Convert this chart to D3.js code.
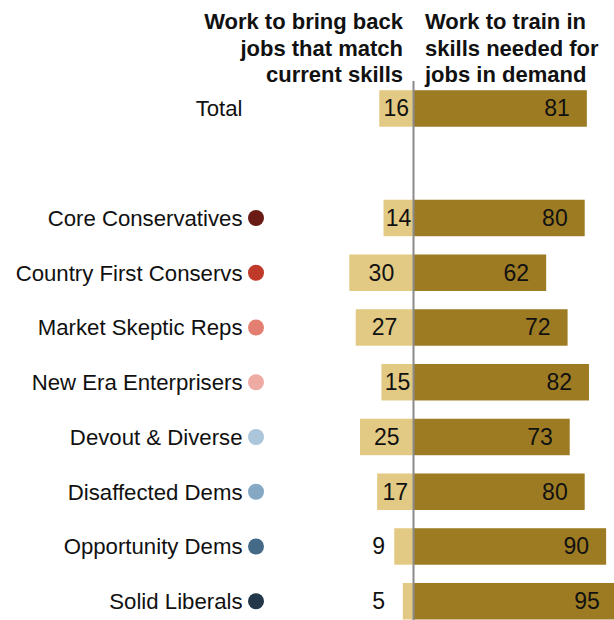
<!DOCTYPE html>
<html><head><meta charset="utf-8">
<script src="https://cdn.jsdelivr.net/npm/d3@7"></script>
<style>
body{margin:0;background:#fff;}
svg{display:block;font-family:"Liberation Sans",Arial,sans-serif;}
</style></head>
<body>
<svg id="chart" width="614" height="620"></svg>
<script>
const categories = ["Total","","Core Conservatives","Country First Conservs","Market Skeptic Reps","New Era Enterprisers","Devout & Diverse","Disaffected Dems","Opportunity Dems","Solid Liberals"];
const bringBack = [16,null,14,30,27,15,25,17,9,5];
const trainSkills = [81,null,80,62,72,82,73,80,90,95];
const dotColors = [null,null,"#6a1c14","#c03a2a","#e37f70","#eeaba3","#abc5da","#85a9c5","#446a87","#22374a"];
const headerLeft = ["Work to bring back","jobs that match","current skills"];
const headerRight = ["Work to train in","skills needed for","jobs in demand"];

const svg = d3.select("#chart");
const zero = 413.5;
const x = d3.scaleLinear().domain([0,100]).range([0,214]);
const y = d3.scaleBand().domain(d3.range(categories.length)).range([81.1,628.6]).paddingInner(1/3).paddingOuter(1/6);

const dark = "#9d7b23", light = "#e3ca84";

const rows = categories.map((c,i)=>({c,i,l:bringBack[i],r:trainSkills[i],dot:dotColors[i]})).filter(d=>d.c);

// bars
svg.selectAll("rect.l").data(rows).join("rect").attr("class","l")
  .attr("x",d=>zero-x(d.l)).attr("y",d=>y(d.i)).attr("width",d=>x(d.l)).attr("height",y.bandwidth())
  .attr("fill",light);
svg.selectAll("rect.r").data(rows).join("rect").attr("class","r")
  .attr("x",zero).attr("y",d=>y(d.i)).attr("width",d=>x(d.r)).attr("height",y.bandwidth())
  .attr("fill",dark);

// value labels
const cy = d=>y(d.i)+y.bandwidth()/2;
svg.selectAll("text.lv").data(rows).join("text").attr("class","lv")
  .attr("x",d=>x(d.l)<24? 385 : zero-x(d.l)/2)
  .attr("text-anchor",d=>x(d.l)<24?"end":"middle")
  .attr("y",d=>cy(d)+8).attr("font-size",23).attr("fill","#111").text(d=>d.l);
svg.selectAll("text.rv").data(rows).join("text").attr("class","rv")
  .attr("x",d=>zero+x(d.r)-17).attr("text-anchor","end")
  .attr("y",d=>cy(d)+8).attr("font-size",23).attr("fill","#111").text(d=>d.r);

// category labels
svg.selectAll("text.cat").data(rows).join("text").attr("class","cat")
  .attr("x",242.5).attr("text-anchor","end").attr("y",d=>cy(d)+8)
  .attr("font-size",22.2).attr("fill","#111").text(d=>d.c);
svg.selectAll("circle.dot").data(rows.filter(d=>d.dot)).join("circle").attr("class","dot")
  .attr("cx",256).attr("cy",d=>cy(d)).attr("r",8).attr("fill",d=>d.dot);

// zero line
svg.append("line").attr("x1",zero).attr("x2",zero).attr("y1",81).attr("y2",620)
  .attr("stroke","#8a8a8a").attr("stroke-width",2);

// headers
const hl = svg.append("text").attr("text-anchor","end").attr("font-weight","bold").attr("font-size",22).attr("fill","#111");
headerLeft.forEach((t,i)=>hl.append("tspan").attr("x",403).attr("y",29+i*26.5).text(t));
const hr = svg.append("text").attr("text-anchor","start").attr("font-weight","bold").attr("font-size",22).attr("fill","#111");
headerRight.forEach((t,i)=>hr.append("tspan").attr("x",425).attr("y",29+i*26.5).text(t));
</script>
</body></html>
